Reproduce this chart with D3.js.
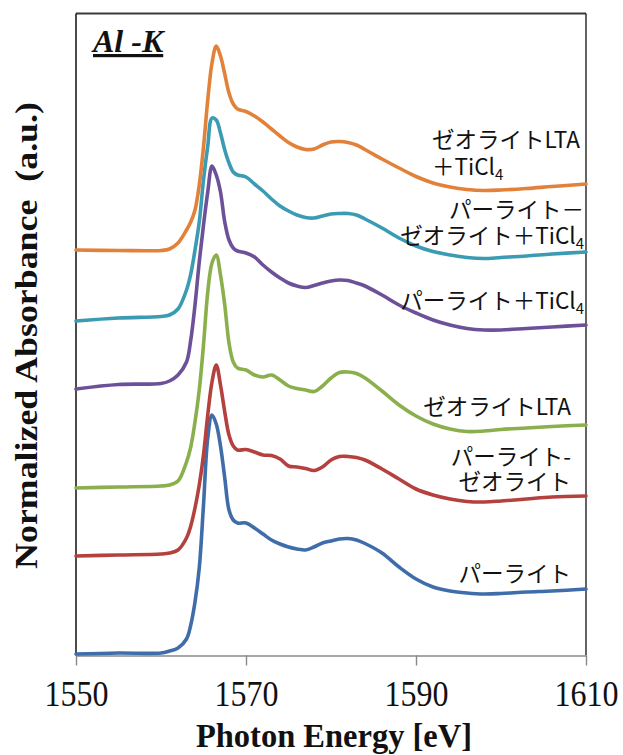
<!DOCTYPE html>
<html>
<head>
<meta charset="utf-8">
<script src="https://cdn.jsdelivr.net/npm/d3@7"></script>
<style>
  html, body { margin: 0; padding: 0; background: #fff; }
  svg { display: block; }
</style>
</head>
<body>
<script>
// ---------------- DATA ----------------
const energy = [1550, 1555, 1560, 1561, 1562, 1563, 1563.5, 1564, 1564.5, 1565, 1565.5, 1566, 1566.5,
  1567, 1567.5, 1568, 1568.5, 1569, 1570, 1571, 1572, 1573, 1574, 1575, 1576, 1577, 1578, 1579,
  1580, 1581, 1582, 1583, 1584, 1586, 1588, 1590, 1592, 1594, 1596, 1598, 1600, 1603, 1606, 1610];

// stacked (offset) normalized absorbance, a.u.
const pearlite = [0.015, 0.025, 0.025, 0.045, 0.075, 0.165, 0.305, 0.535, 0.875, 1.505, 2.175, 2.405, 2.315,
  2.095, 1.775, 1.455, 1.355, 1.325, 1.325, 1.275, 1.215, 1.155, 1.115, 1.085, 1.065, 1.055, 1.085, 1.125,
  1.145, 1.165, 1.17, 1.155, 1.12, 1.025, 0.885, 0.765, 0.685, 0.645, 0.625, 0.615, 0.62, 0.635, 0.645, 0.665];

const pearliteZeolite = [0.995, 1.005, 1.015, 1.025, 1.055, 1.175, 1.295, 1.475, 1.705, 2.005, 2.405, 2.735, 2.905,
  2.705, 2.435, 2.205, 2.095, 2.055, 2.06, 2.035, 2.005, 2.0, 1.965, 1.895, 1.885, 1.87, 1.85, 1.885,
  1.955, 1.99, 1.99, 1.98, 1.955, 1.865, 1.765, 1.665, 1.605, 1.565, 1.54, 1.535, 1.545, 1.565, 1.585, 1.595];

const zeoliteLTA = [1.675, 1.685, 1.695, 1.705, 1.745, 1.935, 2.085, 2.335, 2.655, 3.105, 3.635, 3.925, 4.005,
  3.805, 3.505, 3.125, 2.935, 2.875, 2.855, 2.805, 2.785, 2.805, 2.755, 2.695, 2.67, 2.655, 2.64, 2.695,
  2.775, 2.83, 2.835, 2.82, 2.775, 2.645, 2.505, 2.395, 2.315, 2.265, 2.24, 2.245, 2.26, 2.275, 2.29, 2.305];

const pearliteTiCl4 = [2.665, 2.71, 2.72, 2.745, 2.805, 2.935, 3.155, 3.505, 3.935, 4.305, 4.635, 4.895, 4.805,
  4.635, 4.335, 4.155, 4.075, 4.045, 4.025, 3.985, 3.905, 3.835, 3.775, 3.725, 3.695, 3.68, 3.70, 3.725,
  3.745, 3.755, 3.75, 3.725, 3.695, 3.605, 3.505, 3.425, 3.355, 3.305, 3.27, 3.255, 3.255, 3.27, 3.285, 3.305];

const pearliteZeoliteTiCl4 = [3.345, 3.375, 3.39, 3.405, 3.465, 3.655, 3.815, 4.055, 4.335, 4.755, 5.095, 5.375, 5.355,
  5.225, 5.055, 4.925, 4.835, 4.805, 4.785, 4.715, 4.645, 4.565, 4.495, 4.445, 4.405, 4.38, 4.375, 4.395,
  4.415, 4.42, 4.42, 4.405, 4.365, 4.275, 4.175, 4.095, 4.04, 4.005, 3.98, 3.97, 3.98, 3.995, 4.015, 4.035];

const zeoliteLTATiCl4 = [4.055, 4.05, 4.05, 4.065, 4.125, 4.255, 4.335, 4.455, 4.705, 5.085, 5.555, 5.925, 6.095,
  5.995, 5.815, 5.625, 5.515, 5.465, 5.44, 5.395, 5.335, 5.265, 5.195, 5.13, 5.085, 5.06, 5.065, 5.105,
  5.135, 5.14, 5.13, 5.105, 5.06, 4.965, 4.875, 4.79, 4.725, 4.685, 4.66, 4.65, 4.655, 4.67, 4.69, 4.715];

const seriesNames = ["パーライト", "パーライト-ゼオライト", "ゼオライトLTA", "パーライト＋TiCl4", "パーライト－ゼオライト＋TiCl4", "ゼオライトLTA＋TiCl4"];
const seriesValues = [pearlite, pearliteZeolite, zeoliteLTA, pearliteTiCl4, pearliteZeoliteTiCl4, zeoliteLTATiCl4];
const xTicks = [1550, 1570, 1590, 1610];

// label lines for each series: [text, subscript]
const labelLines = [
  [["パーライト", ""]],
  [["パーライト-", ""], ["ゼオライト", ""]],
  [["ゼオライトLTA", ""]],
  [["パーライト＋TiCl", "4"]],
  [["パーライト－", ""], ["ゼオライト＋TiCl", "4"]],
  [["ゼオライトLTA", ""], ["＋TiCl", "4"]]
];

// ---------------- STYLE / LAYOUT ----------------
const colors = ["#3F6DAA", "#B5413F", "#8AAF4C", "#6D5198", "#3B9BB3", "#E2823A"];
const labelLayout = [
  { x: 571, y: 582, anchor: "end", gap: 25 },
  { x: 571, y: 465, anchor: "end", gap: 25 },
  { x: 571, y: 415, anchor: "end", gap: 25 },
  { x: 584, y: 309, anchor: "end", gap: 25 },
  { x: 584, y: 218, anchor: "end", gap: 26 },
  { x: 432, y: 148, anchor: "start", gap: 27 }
];

const W = 623, H = 755;
const plot = { left: 76, right: 586, top: 13.5, bottom: 655.5 };

const svg = d3.select("body").append("svg")
  .attr("width", W).attr("height", H)
  .style("background", "#fff");

const x = d3.scaleLinear().domain([1550, 1610]).range([plot.left, plot.right]);
const y = d3.scaleLinear().domain([0, 6.42]).range([plot.bottom, plot.top]);

// frame
svg.append("line").attr("x1", plot.left).attr("x2", plot.right).attr("y1", plot.top).attr("y2", plot.top)
  .attr("stroke", "#3a3a3a").attr("stroke-width", 2);
svg.append("line").attr("x1", plot.left).attr("x2", plot.left).attr("y1", plot.top).attr("y2", plot.bottom)
  .attr("stroke", "#111").attr("stroke-width", 1.5);
svg.append("line").attr("x1", plot.right).attr("x2", plot.right).attr("y1", plot.top).attr("y2", plot.bottom)
  .attr("stroke", "#111").attr("stroke-width", 1.3);

// x axis
const xAxis = d3.axisBottom(x).tickValues(xTicks).tickFormat(d3.format("d")).tickSizeInner(10).tickSizeOuter(0);
const gx = svg.append("g").attr("transform", `translate(0,${plot.bottom})`).call(xAxis);
gx.select(".domain").attr("stroke", "#888").attr("stroke-width", 1.6);
gx.selectAll(".tick line").attr("stroke", "#888").attr("stroke-width", 1.4);
gx.selectAll(".tick text")
  .attr("font-family", "'Liberation Serif', 'Times New Roman', serif")
  .attr("font-size", 32).attr("fill", "#111")
  .attr("y", 0).attr("dy", 0)
  .attr("transform", "translate(0,50.5) scale(1,1.1)");

// axis titles
svg.append("text")
  .attr("transform", `translate(${(plot.left + plot.right) / 2 + 3},747) scale(1,1.05)`)
  .attr("text-anchor", "middle")
  .attr("font-family", "'Liberation Serif', 'Times New Roman', serif")
  .attr("font-weight", "bold").attr("font-size", 32.5).attr("fill", "#111")
  .text("Photon Energy [eV]");

svg.append("text")
  .attr("transform", `translate(37,${(plot.top + plot.bottom) / 2 + 1}) rotate(-90) scale(1.12,1)`)
  .attr("text-anchor", "middle")
  .attr("font-family", "'Liberation Serif', 'Times New Roman', serif")
  .attr("font-weight", "bold").attr("font-size", 32).attr("fill", "#111")
  .attr("xml:space", "preserve")
  .text("Normalized Absorbance  (a.u.)");

// panel title
svg.append("text")
  .attr("x", 93).attr("y", 52)
  .attr("font-family", "'Liberation Serif', 'Times New Roman', serif")
  .attr("font-weight", "bold").attr("font-style", "italic").attr("font-size", 32)
  .attr("text-decoration", "underline").attr("fill", "#111")
  .attr("xml:space", "preserve")
  .text("Al -K");

// spectra
const line = d3.line()
  .x((d, i) => x(energy[i]))
  .y(d => y(d))
  .curve(d3.curveCatmullRom.alpha(0.5));

svg.append("g").selectAll("path")
  .data(seriesValues)
  .join("path")
  .attr("d", d => line(d))
  .attr("fill", "none")
  .attr("stroke", (d, i) => colors[i])
  .attr("stroke-width", 3.6)
  .attr("stroke-linejoin", "round")
  .attr("stroke-linecap", "round");

// labels
const lg = svg.append("g")
  .attr("font-family", "'Noto Sans CJK JP', 'Noto Sans', sans-serif")
  .attr("font-size", 22.5).attr("fill", "#111");
labelLines.forEach((lines, i) => {
  const L = labelLayout[i];
  lines.forEach((ln, j) => {
    const t = lg.append("text")
      .attr("x", L.x).attr("y", L.y + j * L.gap)
      .attr("text-anchor", L.anchor);
    t.append("tspan").text(ln[0]);
    if (ln[1]) {
      t.append("tspan").attr("font-size", 15).attr("dy", 5).text(ln[1]);
    }
  });
});
</script>
</body>
</html>
